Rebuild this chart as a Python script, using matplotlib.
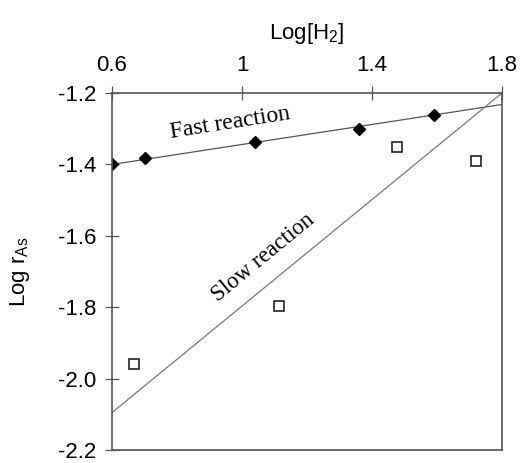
import matplotlib
matplotlib.use('Agg')
import matplotlib.pyplot as plt

# data
fast_x = [0.60, 0.70, 1.04, 1.36, 1.59]
fast_y = [-1.40, -1.382, -1.336, -1.300, -1.262]
slow_x = [0.667, 1.114, 1.476, 1.72]
slow_y = [-1.959, -1.796, -1.352, -1.389]

# fitted lines (end points)
fit_x = [0.6, 1.8]
fast_fit = [-1.40, -1.232]
slow_fit = [-2.095, -1.20]

x_ticks = [0.6, 1.0, 1.4, 1.8]
x_labels = ['0.6', '1', '1.4', '1.8']
y_ticks = [-1.2, -1.4, -1.6, -1.8, -2.0, -2.2]
y_labels = ['-1.2', '-1.4', '-1.6', '-1.8', '-2.0', '-2.2']

plt.rcParams['font.family'] = ['Liberation Sans', 'DejaVu Sans']
plt.rcParams['mathtext.fontset'] = 'custom'
plt.rcParams['mathtext.rm'] = 'Liberation Sans'

fig = plt.figure(figsize=(5.21, 4.63), dpi=100)
ax = fig.add_axes([0.215, 0.028, 0.7485, 0.771])

ax.plot(fit_x, fast_fit, color='#555555', lw=0.9)
ax.plot(fit_x, slow_fit, color='#777777', lw=0.9)
ax.plot(fast_x, fast_y, linestyle='none', marker='D', ms=6, color='black')
ax.plot(slow_x, slow_y, linestyle='none', marker='s', ms=7,
        markerfacecolor='white', markeredgecolor='#222222', markeredgewidth=1.2)

ax.text(0.962, -1.283, 'Fast reaction', family='Liberation Serif', fontsize=17,
        rotation=9, ha='center', va='center')
ax.text(1.064, -1.662, 'Slow reaction', family='Liberation Serif', fontsize=16.5,
        rotation=39.5, ha='center', va='center')

ax.set_xlim(0.6, 1.8)
ax.set_ylim(-2.2, -1.2)
ax.xaxis.tick_top()
ax.xaxis.set_label_position('top')
ax.set_xticks(x_ticks)
ax.set_xticklabels(x_labels)
ax.set_yticks(y_ticks)
ax.set_yticklabels(y_labels)
ax.tick_params(direction='inout', length=10, width=0.9, color='#555555',
               labelsize=16, pad=6)
ax.tick_params(axis='x', pad=7)

for s in ax.spines.values():
    s.set_color('#555555')
    s.set_linewidth(1.2)

ax.set_xlabel('Log[H$_\\mathrm{2}$]', fontsize=16, labelpad=12)
ax.set_ylabel('Log r$_\\mathrm{As}$', fontsize=16, labelpad=19)

fig.savefig('out.png', dpi=100)
